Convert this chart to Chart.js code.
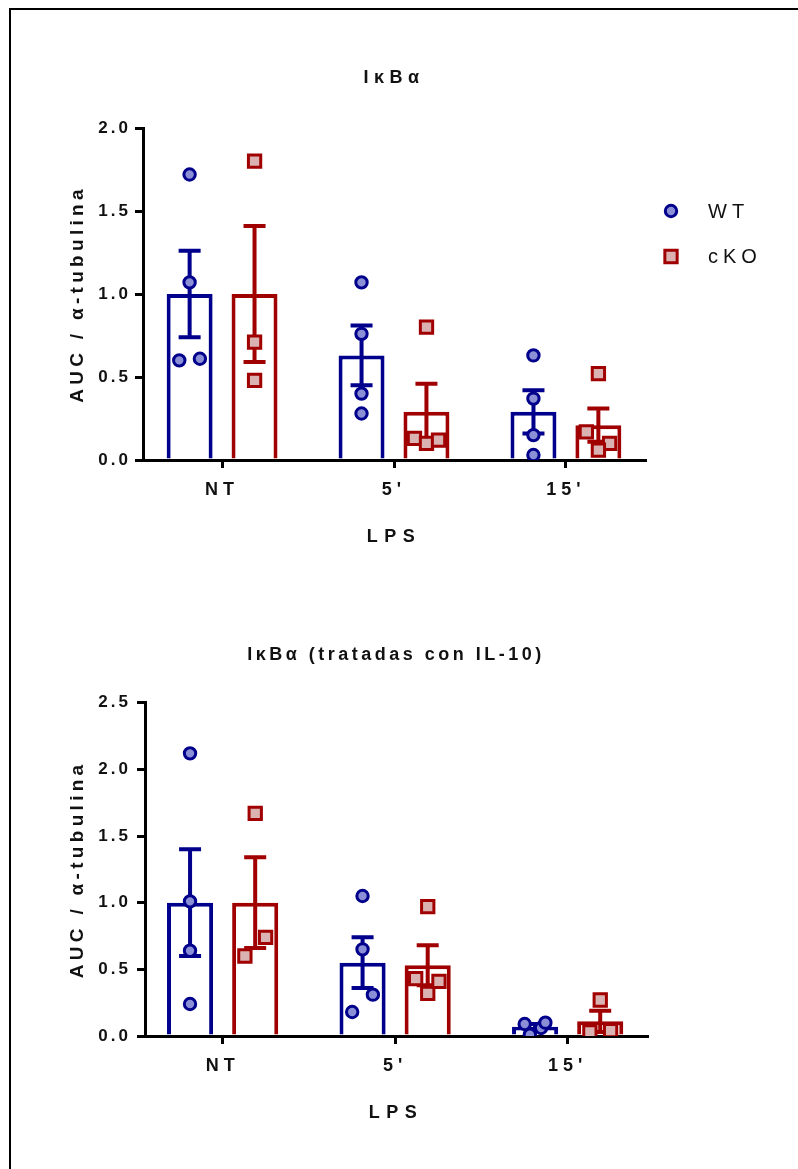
<!DOCTYPE html>
<html lang="es">
<head>
<meta charset="UTF-8">
<title>IκBα</title>
<script src="https://cdn.jsdelivr.net/npm/chart.js@4.4.0/dist/chart.umd.min.js"></script>
<style>
  html, body { margin: 0; padding: 0; background: #fff; }
  body { width: 798px; height: 1169px; position: relative; overflow: hidden; }
  .frame { position: absolute; left: 9px; top: 8px; width: 800px; height: 1170px;
           border-top: 2px solid #000; border-left: 2px solid #000; }
  canvas { position: absolute; left: 0; }
  #chartTop { top: 0; }
  #chartBottom { top: 580px; }
</style>
</head>
<body>
<div class="frame"></div>
<canvas id="chartTop" width="798" height="580"></canvas>
<canvas id="chartBottom" width="798" height="589"></canvas>

<script>
const groups = ['NT', "5'", "15'"];

// IκBα sin tratar: media, SEM y valores individuales por tiempo de LPS
const wtMean1 = [1.00, 0.63, 0.29];
const wtSem1 = [0.26, 0.18, 0.13];
const koMean1 = [1.00, 0.29, 0.21];
const koSem1 = [0.41, 0.17, 0.10];
const wtPoints1 = [[1.72, 1.07, 0.60, 0.61], [1.07, 0.76, 0.40, 0.28], [0.63, 0.37, 0.15, 0.03]];
const koPoints1 = [[1.80, 0.71, 0.48], [0.80, 0.13, 0.10, 0.12], [0.52, 0.17, 0.10, 0.06]];

// IκBα en células tratadas con IL-10
const wtMean2 = [1.00, 0.55, 0.07];
const wtSem2 = [0.40, 0.19, 0.02];
const koMean2 = [1.00, 0.53, 0.11];
const koSem2 = [0.34, 0.15, 0.08];
const wtPoints2 = [[2.12, 1.01, 0.64, 0.24], [1.05, 0.65, 0.31, 0.18], [0.09, 0.01, 0.06, 0.10]];
const koPoints2 = [[1.67, 0.74, 0.60], [0.97, 0.43, 0.32, 0.41], [0.27, 0.03, 0.04]];

// horizontal spread of overlapping dots (in category units)
const wtSpread1 = [[0, 0, -0.06, 0.06], [0, 0, 0, 0], [0, 0, 0, 0]];
const koSpread1 = [[0, 0, 0], [0, -0.07, 0, 0.07], [0, -0.07, 0.065, 0]];
const wtSpread2 = [[0, 0, 0, 0], [0, 0, 0.06, -0.06], [-0.06, -0.03, 0.035, 0.06]];
const koSpread2 = [[0, 0.06, -0.06], [0, -0.07, 0, 0.065], [0, -0.06, 0.06]];

const FONT = "'Liberation Sans', Arial, sans-serif";
const INK = '#111';
const WT_LINE = '#00008c';
const WT_FILL = '#8a8fd6';
const KO_LINE = '#a00000';
const KO_FILL = '#dbb2b2';
const SHIFT = 0.189;

// wraps a draw method so its text is rendered with extra tracking
function tracked(obj, name, px) {
  if (!obj || obj['_tracked_' + name]) return;
  const orig = obj[name];
  obj[name] = function (...a) {
    const ctx = this.ctx;
    const prev = ctx.letterSpacing;
    ctx.letterSpacing = px;
    orig.apply(this, a);
    ctx.letterSpacing = prev;
  };
  obj['_tracked_' + name] = true;
}

// Prism-style wide letter spacing, different per label group
const spacing = {
  id: 'spacing',
  beforeLayout(chart) { chart.ctx.letterSpacing = '3px'; },
  beforeDraw(chart, args, o) {
    const { x, y } = chart.scales;
    tracked(x, 'drawLabels', o.xTicks);
    tracked(x, 'drawTitle', o.xTitle);
    tracked(y, 'drawLabels', o.yTicks);
    tracked(y, 'drawTitle', o.yTitle);
    tracked(chart.titleBlock, 'draw', o.title);
    chart.ctx.letterSpacing = '3px';
  }
};

// mean ± SEM whiskers on top of each bar
const errorBars = {
  id: 'errorBars',
  afterDatasetDraw(chart, args) {
    const ds = chart.data.datasets[args.index];
    if (!ds.sem) return;
    const ctx = chart.ctx;
    const y = chart.scales.y;
    ctx.save();
    ctx.strokeStyle = ds.borderColor;
    ctx.lineWidth = 4;
    args.meta.data.forEach((bar, i) => {
      const top = y.getPixelForValue(ds.data[i].y + ds.sem[i]);
      const bot = y.getPixelForValue(ds.data[i].y - ds.sem[i]);
      ctx.beginPath();
      ctx.moveTo(bar.x, top); ctx.lineTo(bar.x, bot);
      ctx.moveTo(bar.x - 11, top); ctx.lineTo(bar.x + 11, top);
      ctx.moveTo(bar.x - 11, bot); ctx.lineTo(bar.x + 11, bot);
      ctx.stroke();
    });
    ctx.restore();
  }
};

// legend to the right of the plot, built from the dot datasets
const sideLegend = {
  id: 'sideLegend',
  afterDraw(chart, args, opts) {
    if (!opts.show) return;
    const ctx = chart.ctx;
    const marks = chart.data.datasets.filter(ds => ds.type === 'scatter');
    ctx.save();
    ctx.font = 'normal 20px ' + FONT;
    ctx.letterSpacing = '5px';
    ctx.textBaseline = 'middle';
    marks.forEach((ds, i) => {
      const cy = opts.top + i * opts.step;
      ctx.beginPath();
      if (ds.pointStyle === 'rect') {
        const h = ds.pointRadius * Math.SQRT1_2;
        ctx.rect(opts.markX - h, cy - h, 2 * h, 2 * h);
      } else {
        ctx.arc(opts.markX, cy, ds.pointRadius, 0, Math.PI * 2);
      }
      ctx.fillStyle = ds.pointBackgroundColor;
      ctx.fill();
      ctx.lineWidth = ds.pointBorderWidth;
      ctx.strokeStyle = ds.pointBorderColor;
      ctx.stroke();
      ctx.fillStyle = INK;
      ctx.fillText(ds.label, opts.textX, cy + 1);
    });
    ctx.restore();
  }
};

function barData(means) {
  return means.map((m, g) => ({ x: g, y: m }));
}

function dotData(points, spread, shift) {
  return points.flatMap((vals, g) => vals.map((v, k) => ({ x: g + shift + spread[g][k], y: v })));
}

function drawPanel(id, p) {
  const grid = { offset: false, drawOnChartArea: false, color: '#000', lineWidth: 3, tickLength: 8 };
  const border = { display: true, color: '#000', width: 3 };
  const bold = size => ({ family: FONT, size: size, weight: 'bold' });

  new Chart(document.getElementById(id), {
    type: 'bar',
    data: {
      datasets: [
        { type: 'bar', label: 'WT', data: barData(p.wtMean), sem: p.wtSem,
          borderColor: WT_LINE, backgroundColor: '#fff', borderWidth: 4,
          categoryPercentage: 0.755, barPercentage: 0.708, order: 2 },
        { type: 'bar', label: 'cKO', data: barData(p.koMean), sem: p.koSem,
          borderColor: KO_LINE, backgroundColor: '#fff', borderWidth: 4,
          categoryPercentage: 0.755, barPercentage: 0.708, order: 2 },
        { type: 'scatter', label: 'WT', data: dotData(p.wtPoints, p.wtSpread, -SHIFT),
          pointStyle: 'circle', pointRadius: 5.7, pointBorderWidth: 3,
          pointBackgroundColor: WT_FILL, pointBorderColor: WT_LINE,
          backgroundColor: WT_FILL, borderColor: WT_LINE, order: 1 },
        { type: 'scatter', label: 'cKO', data: dotData(p.koPoints, p.koSpread, SHIFT),
          pointStyle: 'rect', pointRadius: 8.7, pointBorderWidth: 3,
          pointBackgroundColor: KO_FILL, pointBorderColor: KO_LINE,
          backgroundColor: KO_FILL, borderColor: KO_LINE, order: 1 }
      ]
    },
    options: {
      responsive: false,
      animation: false,
      events: [],
      layout: { padding: { left: 0, top: 0, right: p.padRight, bottom: p.padBottom } },
      plugins: {
        legend: { display: false },
        tooltip: { enabled: false },
        title: {
          display: true, text: p.title, fullSize: false, color: INK, font: bold(18),
          padding: { top: p.titleTop, bottom: p.titleBottom }
        },
        sideLegend: { show: p.legend, markX: 671, textX: 708, top: 211, step: 45.5 },
        spacing: { xTicks: '5px', xTitle: '6.5px', yTicks: '3px', yTitle: '4.3px', title: p.titleSpacing }
      },
      scales: {
        x: {
          type: 'linear', min: p.xMin, max: p.xMax, offset: false,
          afterBuildTicks: s => { s.ticks = groups.map((g, i) => ({ value: i })); },
          afterFit: s => { s.height = 100; },
          ticks: { callback: v => groups[v], color: INK, font: bold(18), padding: 11.7,
                   maxRotation: 0, autoSkip: false },
          grid: grid,
          border: border,
          title: { display: true, text: 'LPS', color: INK, font: bold(18),
                   padding: { top: 0, bottom: p.lpsBottom } }
        },
        y: {
          min: 0, max: p.yMax,
          afterFit: s => { s.width = p.yWidth; },
          ticks: { stepSize: 0.5, callback: v => v.toFixed(1), color: INK, font: bold(17),
                   padding: p.yPad },
          grid: grid,
          border: border,
          title: { display: true, text: 'AUC / α-tubulina', color: INK, font: bold(19),
                   padding: { top: 66, bottom: 0 } }
        }
      }
    },
    plugins: [spacing, errorBars, sideLegend]
  });
}

drawPanel('chartTop', {
  title: 'IκBα', legend: true, titleSpacing: '5.5px',
  wtMean: wtMean1, wtSem: wtSem1, koMean: koMean1, koSem: koSem1,
  wtPoints: wtPoints1, koPoints: koPoints1, wtSpread: wtSpread1, koSpread: koSpread1,
  yMax: 2.0, xMin: -0.46, xMax: 2.46, yWidth: 143, yPad: 4,
  padRight: 153, padBottom: 20, titleTop: 67.2, titleBottom: 39.2, lpsBottom: 11.7
});

drawPanel('chartBottom', {
  title: 'IκBα (tratadas con IL-10)', legend: false, titleSpacing: '3.5px',
  wtMean: wtMean2, wtSem: wtSem2, koMean: koMean2, koSem: koSem2,
  wtPoints: wtPoints2, koPoints: koPoints2, wtSpread: wtSpread2, koSpread: koSpread2,
  yMax: 2.5, xMin: -0.45, xMax: 2.46, yWidth: 145, yPad: 6,
  padRight: 151, padBottom: 33, titleTop: 64.2, titleBottom: 36.9, lpsBottom: 12.2
});
</script>
</body>
</html>
